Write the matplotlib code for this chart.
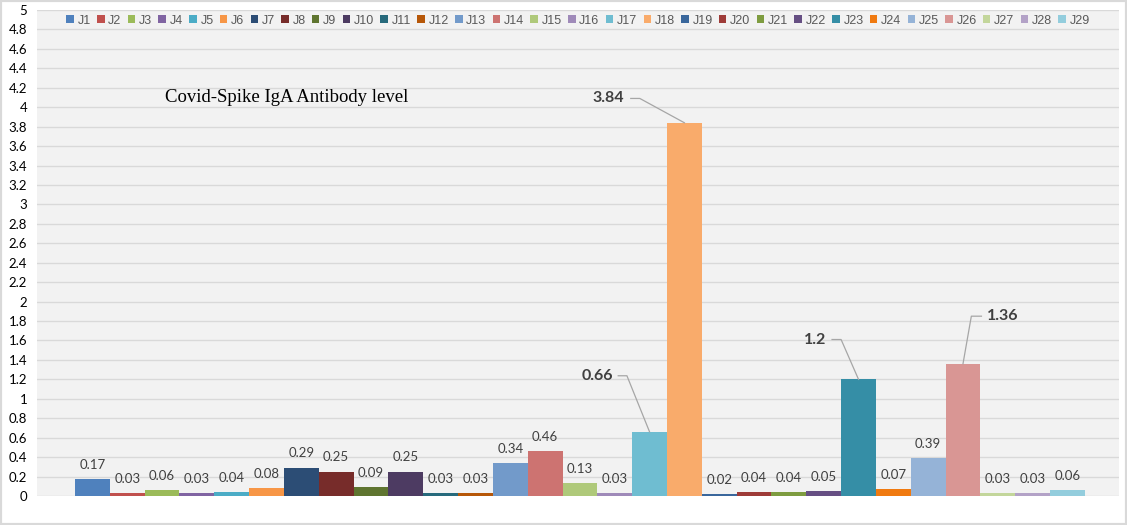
import matplotlib
matplotlib.use("Agg")
import matplotlib.pyplot as plt
from matplotlib.patches import Patch, Rectangle

# data
labels = [f"J{i}" for i in range(1, 30)]
values = [0.17, 0.03, 0.06, 0.03, 0.04, 0.08, 0.29, 0.25, 0.09, 0.25,
          0.03, 0.03, 0.34, 0.46, 0.13, 0.03, 0.66, 3.84, 0.02, 0.04,
          0.04, 0.05, 1.2, 0.07, 0.39, 1.36, 0.03, 0.03, 0.06]
colors = ["#4F81BD", "#C0504D", "#9BBB59", "#8064A2", "#4BACC6", "#F79646",
          "#2C4D75", "#772C2A", "#5F7530", "#4D3B62", "#276A7C", "#B65708",
          "#729ACA", "#CD7371", "#AFC97A", "#9F8AB9", "#6FBDD1", "#F9AB6B",
          "#3A679C", "#9E3B38", "#7E9C40", "#664F83", "#358EA6", "#F07A10",
          "#95B3D7", "#D99694", "#C3D69B", "#B3A2C7", "#93CDDD"]
title = "Covid-Spike IgA Antibody level"
yticks = [round(0.2 * i, 1) for i in range(26)]

# callouts for the big values: text pos + leader line elbow (data units)
callouts = {
    16: dict(tx=14.95, ty=1.237, lx=[15.10, 15.35], ha="right"),
    17: dict(tx=15.26, ty=4.09, lx=[15.46, 15.72], ha="right"),
    22: dict(tx=21.08, ty=1.61, lx=[21.24, 21.50], ha="right"),
    25: dict(tx=25.70, ty=1.85, lx=[25.53, 25.24], ha="left"),
}

label_font = ["Lato", "DejaVu Sans"]
legend_font = ["Liberation Sans Narrow", "Liberation Sans", "DejaVu Sans"]

fig = plt.figure(figsize=(11.27, 5.25), dpi=100)
fig.patches.append(Rectangle((0, 0), 1, 1, transform=fig.transFigure,
                             facecolor="white", edgecolor="#D9D9D9",
                             linewidth=3, zorder=-10))
ax = fig.add_axes([37 / 1127, 29 / 525, 1082 / 1127, 486 / 525])
ax.set_facecolor("#F2F2F2")

x = list(range(len(values)))
ax.bar(x, values, width=1.0, color=colors, zorder=3)

ax.set_ylim(0, 5)
ax.set_xlim(-0.5 - 1.09, 28.5 + 0.98)
ax.set_yticks(yticks)
ax.set_yticklabels([f"{t:g}" for t in yticks], family=label_font,
                   fontsize=9.5, color="#000000")
ax.tick_params(axis="y", length=0, pad=7)
ax.set_xticks([])
ax.grid(axis="y", color="#D9D9D9", linewidth=1, zorder=0)
for s in ax.spines.values():
    s.set_visible(False)

for i, v in enumerate(values):
    if i in callouts:
        c = callouts[i]
        ax.text(c["tx"], c["ty"], f"{v:g}", ha=c["ha"], va="center",
                family=label_font, fontsize=11.5, fontweight="bold",
                color="#404040", zorder=5)
        if c["ha"] == "right":
            px = c["lx"] + [i]
            py = [c["ty"], c["ty"], v]
        else:
            px = [i, c["lx"][1], c["lx"][0]]
            py = [v, c["ty"], c["ty"]]
        ax.plot(px, py, color="#A6A6A6", linewidth=0.9, zorder=4)
    else:
        ax.annotate(f"{v:g}", (i, v), xytext=(0, 6), textcoords="offset points",
                    ha="center", va="bottom", family=label_font,
                    fontsize=9.5, color="#404040", zorder=5)

fig.text(165 / 1127, 1 - 97 / 525, title, fontsize=13.5,
         family=["Liberation Serif", "DejaVu Serif"], va="center", ha="left")

handles = [Patch(facecolor=c, edgecolor="none") for c in colors]
leg = ax.legend(handles, labels, ncol=29, loc="upper center",
                bbox_to_anchor=(0.5, 1.006), frameon=False,
                handlelength=0.6, handleheight=0.6, handletextpad=0.3,
                columnspacing=0.5, borderpad=0.3, borderaxespad=0.3,
                prop={"family": legend_font, "size": 9})
for t in leg.get_texts():
    t.set_color("#595959")

fig.savefig("out.png", dpi=100)
